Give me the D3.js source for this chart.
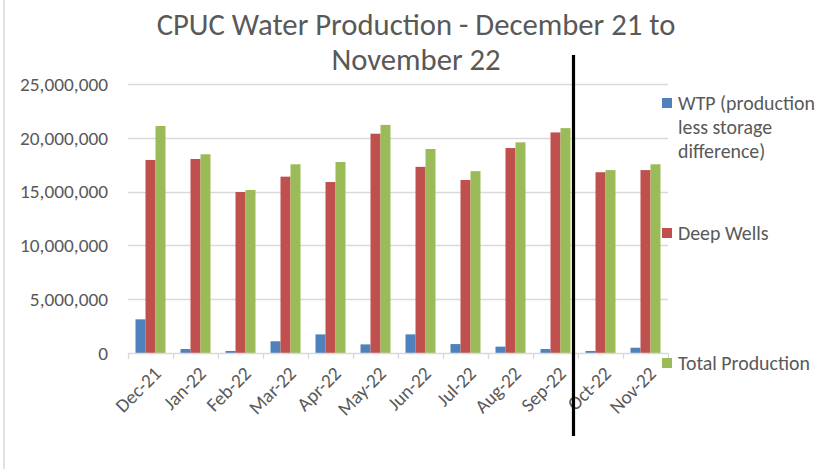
<!DOCTYPE html>
<html><head><meta charset="utf-8">
<script src="https://cdn.jsdelivr.net/npm/d3@7"></script>
<style>
html,body{margin:0;padding:0;background:#fff;}
svg{display:block;}
text{font-family:Carlito, Lato, "Open Sans", sans-serif;fill:#595959;}
</style></head>
<body>
<svg id="chart" width="833" height="469"></svg>
<script>
const categories = ["Dec-21","Jan-22","Feb-22","Mar-22","Apr-22","May-22","Jun-22","Jul-22","Aug-22","Sep-22","Oct-22","Nov-22"];
const wtp      = [3130000, 370000, 190000, 1090000, 1730000, 800000, 1730000, 830000, 590000, 370000, 190000, 490000];
const deepWells= [17940000,18030000,14960000,16390000,15890000,20380000,17300000,16080000,19050000,20500000,16800000,17000000];
const total    = [21100000,18470000,15150000,17540000,17750000,21200000,18960000,16900000,19580000,20900000,17000000,17540000];
const seriesNames = ["WTP (production less storage difference)", "Deep Wells", "Total Production"];
const legendLines = [["WTP (production","less storage","difference)"],["Deep Wells"],["Total Production"]];
const yTicks = [0,5000000,10000000,15000000,20000000,25000000];
const titleLines = ["CPUC Water Production - December 21 to","November 22"];
const colors = ["#4F81BD","#C0504D","#9BBB59"];

(function(){
const svg = d3.select("#chart");
const W = 833, H = 469;
const pL = 128, pR = 668, pT = 84, pB = 353;

svg.append("line").attr("x1",4).attr("x2",4).attr("y1",0).attr("y2",H)
  .attr("stroke","#D9D9D9").attr("stroke-width",1.5);

function fit(sel, target){
  const n = sel.node();
  const w = n.getComputedTextLength();
  const fs = parseFloat(sel.attr("font-size"));
  sel.attr("font-size", fs*target/w);
  return fs*target/w;
}

const x = d3.scaleBand().domain(categories).range([pL,pR]).paddingInner(0).paddingOuter(0);
const y = d3.scaleLinear().domain([0,25000000]).range([pB,pT]);
const bw = x.bandwidth();
const inner = d3.scaleBand().domain([0,1,2]).range([bw/6, bw*5/6]).paddingInner(0).paddingOuter(0);

svg.append("g").selectAll("line").data(yTicks.filter(d=>d>0)).join("line")
  .attr("x1",pL).attr("x2",pR)
  .attr("y1",d=>Math.round(y(d))+0.5).attr("y2",d=>Math.round(y(d))+0.5)
  .attr("stroke","#D9D9D9").attr("stroke-width",1.3);

const fmt = d3.format(",");
const ylab = svg.append("g").selectAll("text").data(yTicks).join("text")
  .attr("x",108).attr("y",d=>y(d)).attr("dy","0.35em")
  .attr("text-anchor","end").attr("font-size",16).text(d=>fmt(d));
const top25 = ylab.filter(d=>d===25000000);
const yfs = fit(top25, 88);
ylab.attr("font-size", yfs);

const seriesData = [wtp, deepWells, total];
seriesData.forEach((vals,si)=>{
  svg.append("g").selectAll("rect").data(vals).join("rect")
    .attr("x",(d,i)=>x(categories[i])+inner(si))
    .attr("width",inner.bandwidth())
    .attr("y",d=>y(d))
    .attr("height",d=>y(0)-y(d))
    .attr("fill",colors[si]);
});

svg.append("line").attr("x1",pL).attr("x2",pR).attr("y1",pB+0.5).attr("y2",pB+0.5)
  .attr("stroke","#D9D9D9").attr("stroke-width",1.3);
const bounds = categories.map(c=>x(c)).concat([pR]);
svg.append("g").selectAll("line").data(bounds).join("line")
  .attr("x1",d=>Math.round(d)+0.5).attr("x2",d=>Math.round(d)+0.5)
  .attr("y1",pB).attr("y2",pB+6)
  .attr("stroke","#D9D9D9").attr("stroke-width",1.3);

svg.append("g").selectAll("text").data(categories).join("text")
  .attr("transform",d=>`translate(${x(d)+bw/2+7},${pB+17}) rotate(-45)`)
  .attr("text-anchor","end").attr("dy","0.35em")
  .attr("font-size",yfs).text(d=>d);

const t1 = svg.append("text").attr("x",416).attr("y",35).attr("text-anchor","middle")
  .attr("font-size",24).text(titleLines[0]);
const tfs = fit(t1, 519);
svg.append("text").attr("x",416).attr("y",70).attr("text-anchor","middle")
  .attr("font-size",tfs).text(titleLines[1]);

const legendY = [103, 233, 363];
const lg = svg.append("g");
let lfs = 16;
legendLines.forEach((lines,i)=>{
  lg.append("rect").attr("x",662).attr("y",legendY[i]-5).attr("width",10).attr("height",10).attr("fill",colors[i]);
  lines.forEach((ln,j)=>{
    const t = lg.append("text").attr("class","lt").attr("x",678).attr("y",legendY[i]+j*24).attr("dy","0.35em")
      .attr("font-size",16).text(ln);
    if(i===2) lfs = fit(t,132);
  });
});
lg.selectAll(".lt").attr("font-size",lfs);

svg.append("line").attr("x1",573.5).attr("x2",573.5).attr("y1",55).attr("y2",436)
  .attr("stroke","#000").attr("stroke-width",3.2);
})();
</script>
</body></html>
